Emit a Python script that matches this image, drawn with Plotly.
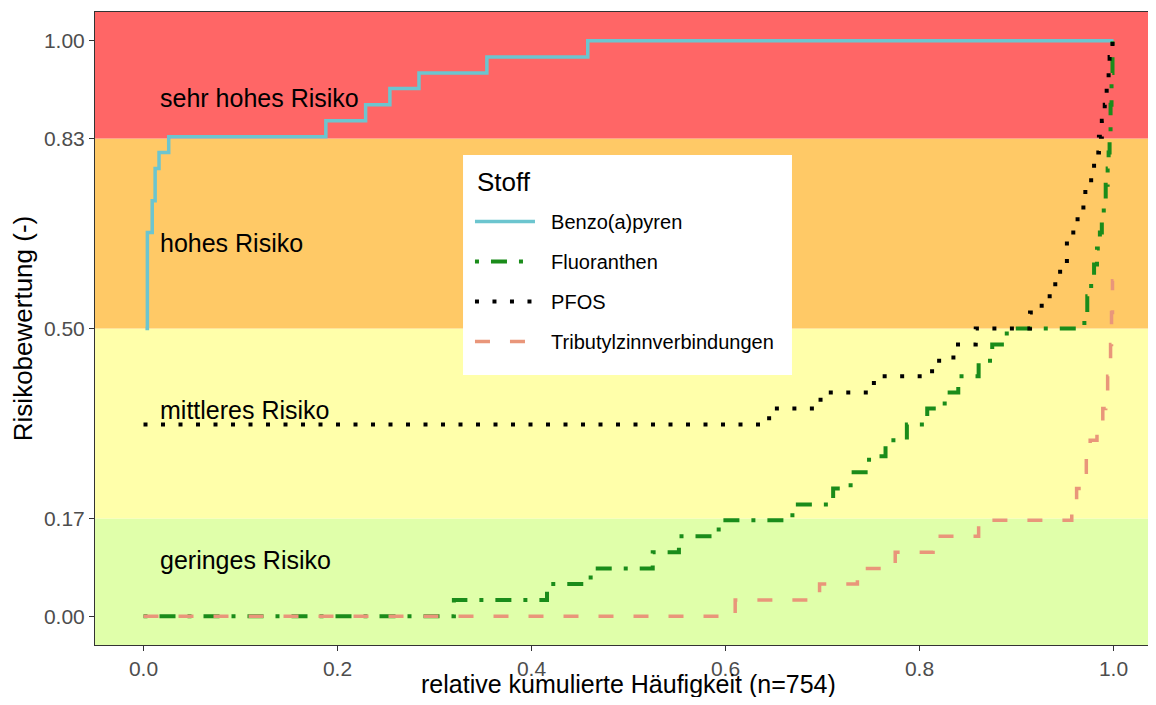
"""Risikobewertung: step curves over the relative cumulative frequency."""

import plotly.graph_objects as go

# risk bands (lower, upper, colour, label, label position)
band_edges = [-0.05, 0.17, 0.5, 0.83, 1.05]
band_colors = ["#E0FFAA", "#FFFFAA", "#FFC966", "#FF6666"]
band_labels = ["geringes Risiko", "mittleres Risiko", "hohes Risiko", "sehr hohes Risiko"]
label_y = [0.097, 0.358, 0.649, 0.90]

# Benzo(a)pyren
benzo_x = [0.002, 0.004, 0.009, 0.012, 0.016, 0.026, 0.188, 0.229, 0.254, 0.284, 0.354, 0.458, 1.0]
benzo_y = [0.5, 0.667, 0.722, 0.778, 0.806, 0.833, 0.861, 0.889, 0.917, 0.944, 0.972, 1.0, 1.0]

# Fluoranthen
fluor_x = [0.0, 0.320, 0.416, 0.461, 0.525, 0.552, 0.593, 0.669, 0.711, 0.729,
           0.748, 0.765, 0.787, 0.808, 0.826, 0.840, 0.861, 0.875, 0.890,
           0.970, 0.973, 0.977, 0.980, 0.983, 0.986, 0.988, 0.990, 0.992, 0.994,
           0.995, 0.996, 0.997, 0.998, 0.999, 1.0]
fluor_y = [0.0, 0.028, 0.056, 0.083, 0.111, 0.139, 0.167, 0.194, 0.222, 0.25,
           0.278, 0.306, 0.333, 0.361, 0.389, 0.417, 0.444, 0.472, 0.5,
           0.528, 0.556, 0.583, 0.611, 0.639, 0.667, 0.694, 0.722, 0.75, 0.778,
           0.806, 0.833, 0.889, 0.944, 1.0, 1.0]

# PFOS
pfos_x = [0.0, 0.645, 0.698, 0.753, 0.813, 0.835, 0.858, 0.914, 0.926, 0.940,
          0.945, 0.952, 0.963, 0.969, 0.971, 0.977, 0.980, 0.985, 0.988, 0.991,
          0.993, 0.995, 0.996, 0.997, 0.999, 1.0]
pfos_y = [0.333, 0.361, 0.389, 0.417, 0.444, 0.472, 0.5, 0.528, 0.556, 0.583,
          0.611, 0.667, 0.694, 0.722, 0.75, 0.778, 0.806, 0.833, 0.861, 0.889,
          0.917, 0.944, 0.972, 0.986, 1.0, 1.0]

# Tributylzinnverbindungen
tbt_x = [0.0, 0.610, 0.697, 0.736, 0.775, 0.814, 0.861, 0.957, 0.962, 0.967,
         0.972, 0.976, 0.983, 0.989, 0.992, 0.994, 0.996, 0.997, 0.998, 0.999, 1.0]
tbt_y = [0.0, 0.028, 0.056, 0.083, 0.111, 0.139, 0.167, 0.194, 0.222, 0.25,
         0.278, 0.306, 0.333, 0.361, 0.389, 0.417, 0.444, 0.472, 0.528, 0.583, 0.583]

x_ticks = [0.0, 0.2, 0.4, 0.6, 0.8, 1.0]
x_ticktext = ["0.0", "0.2", "0.4", "0.6", "0.8", "1.0"]
y_ticks = [0.0, 0.17, 0.5, 0.83, 1.0]
y_ticktext = ["0.00", "0.17", "0.50", "0.83", "1.00"]

series = [
    ("Benzo(a)pyren", benzo_x, benzo_y, "#6CC5CF", "solid", 3.5),
    ("Fluoranthen", fluor_x, fluor_y, "#1A8C1A", "4px,12px,16px,12px", 4),
    ("PFOS", pfos_x, pfos_y, "black", "4px,13.5px", 4),
    ("Tributylzinnverbindungen", tbt_x, tbt_y, "#E9967A", "15px,20px", 3.5),
]

fig = go.Figure()
for name, xs, ys, color, dash, width in series:
    fig.add_trace(go.Scatter(
        x=xs, y=ys, name="\u00a0\u00a0" + name, mode="lines", legendgroup=name,
        line=dict(color=color, dash=dash, width=width, shape="hv"),
    ))

for lo, hi, color in zip(band_edges[:-1], band_edges[1:], band_colors):
    fig.add_shape(type="rect", xref="paper", x0=0, x1=1, yref="y", y0=lo, y1=hi,
                  fillcolor=color, line_width=0, layer="below")

for text, y in zip(band_labels, label_y):
    fig.add_annotation(x=0.015, y=y, text=text, showarrow=False,
                       xanchor="left", yanchor="middle",
                       font=dict(size=25, color="black"))

# white legend box with the "Stoff" title
fig.add_shape(type="rect", xref="paper", yref="paper",
              x0=0.3495, x1=0.6619, y0=0.4265, y1=0.7741,
              fillcolor="white", line_width=0, layer="above")
fig.add_annotation(xref="paper", yref="paper", x=0.3609, y=0.7314, text="Stoff",
                   showarrow=False, xanchor="left", yanchor="middle",
                   font=dict(size=26, color="black"))

# x axis title sits low, at the bottom edge of the page
fig.add_annotation(xref="paper", yref="paper", x=0.507, y=-0.0616,
                   text="relative kumulierte Häufigkeit (n=754)", showarrow=False,
                   xanchor="center", yanchor="middle",
                   font=dict(size=25, color="black"))

axis_style = dict(
    showgrid=False, zeroline=False, showline=True, linecolor="#333333",
    linewidth=1, mirror=True, ticks="outside", ticklen=5, tickcolor="#333333",
    tickfont=dict(size=21, color="#4D4D4D"), automargin=False,
)

# the page body keeps an 8px margin, so the figure is kept inside the window
fig.update_layout(
    width=1140, height=689,
    margin=dict(l=87, r=0, t=4, b=52),
    plot_bgcolor="white", paper_bgcolor="white",
    font=dict(family="Liberation Sans, Arial, sans-serif", color="black"),
    xaxis=dict(range=[-0.05, 1.0356], tickvals=x_ticks, ticktext=x_ticktext,
               **axis_style),
    yaxis=dict(range=[-0.05, 1.05], tickvals=y_ticks, ticktext=y_ticktext,
               title=dict(text="Risikobewertung (-)", font=dict(size=26), standoff=12),
               **axis_style),
    legend=dict(
        x=0.3561, y=0.700, xanchor="left", yanchor="top",
        bgcolor="rgba(0,0,0,0)", borderwidth=0,
        font=dict(size=20, color="black"),
        itemwidth=60, tracegroupgap=11,
    ),
)

fig.write_html("out.html")
